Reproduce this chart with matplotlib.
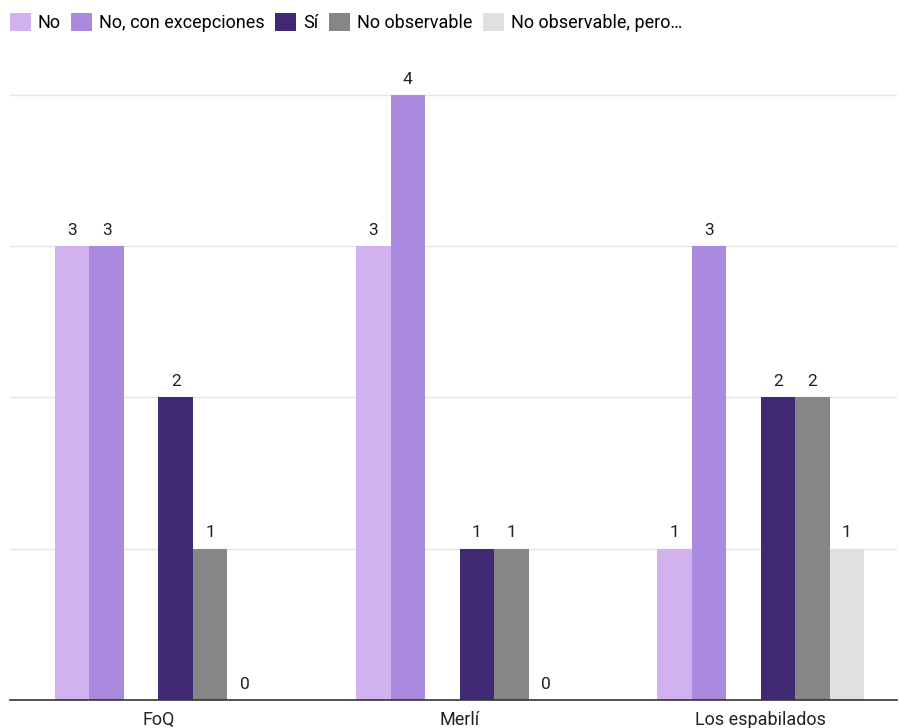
import numpy as np
import matplotlib.pyplot as plt
from matplotlib.patches import Patch

plt.rcParams['font.family'] = ['Roboto', 'DejaVu Sans']

categories = ['FoQ', 'Merlí', 'Los espabilados']
series = ['No', 'No, con excepciones', 'Sí', 'No observable', 'No observable, pero…']
values = [
    [3, 3, 1],   # No
    [3, 4, 3],   # No, con excepciones
    [2, 1, 2],   # Sí
    [1, 1, 2],   # No observable
    [0, 0, 1],   # No observable, pero...
]
colors = ['#d1b2ee', '#a98adf', '#3f2a73', '#868686', '#e0e0e0']

# six slots per group, the third one is empty in the original
slots = [0, 1, 3, 4, 5]
n_slots = 6
width = 0.1146

fig = plt.figure(figsize=(8.99, 7.28), dpi=100)
ax = fig.add_axes([10 / 899, 28 / 728, 887 / 899, 658 / 728])

x = np.arange(len(categories))
for i, name in enumerate(series):
    pos = x + (slots[i] - (n_slots - 1) / 2) * width
    bars = ax.bar(pos, values[i], width, color=colors[i], zorder=2)
    for b, v in zip(bars, values[i]):
        ax.annotate(str(v), (b.get_x() + b.get_width() / 2, v),
                    xytext=(0, 6), textcoords='offset points',
                    ha='center', va='bottom', fontsize=12.5, color='#222222')

ax.set_xlim(-0.493, 2.453)
ax.set_ylim(0, 4.35)
ax.set_yticks([1, 2, 3, 4])
ax.yaxis.grid(True, color='#e5e5e5', linewidth=1)
ax.tick_params(axis='y', left=False, labelleft=False)
ax.set_xticks(x + 0.0)
ax.set_xticklabels(categories, fontsize=13, color='#222222')
ax.tick_params(axis='x', length=0, pad=8)
for s in ['top', 'right', 'left']:
    ax.spines[s].set_visible(False)
ax.spines['bottom'].set_color('#333333')
ax.spines['bottom'].set_linewidth(1.2)

handles = [Patch(facecolor=c) for c in colors]
fig.legend(handles, series, loc='upper left', bbox_to_anchor=(-0.003, 1.0),
           ncol=5, frameon=False, fontsize=13, handlelength=1.15,
           handleheight=1.15, handletextpad=0.38, columnspacing=0.6,
           borderaxespad=0.3)

fig.savefig('out.png', dpi=100)
